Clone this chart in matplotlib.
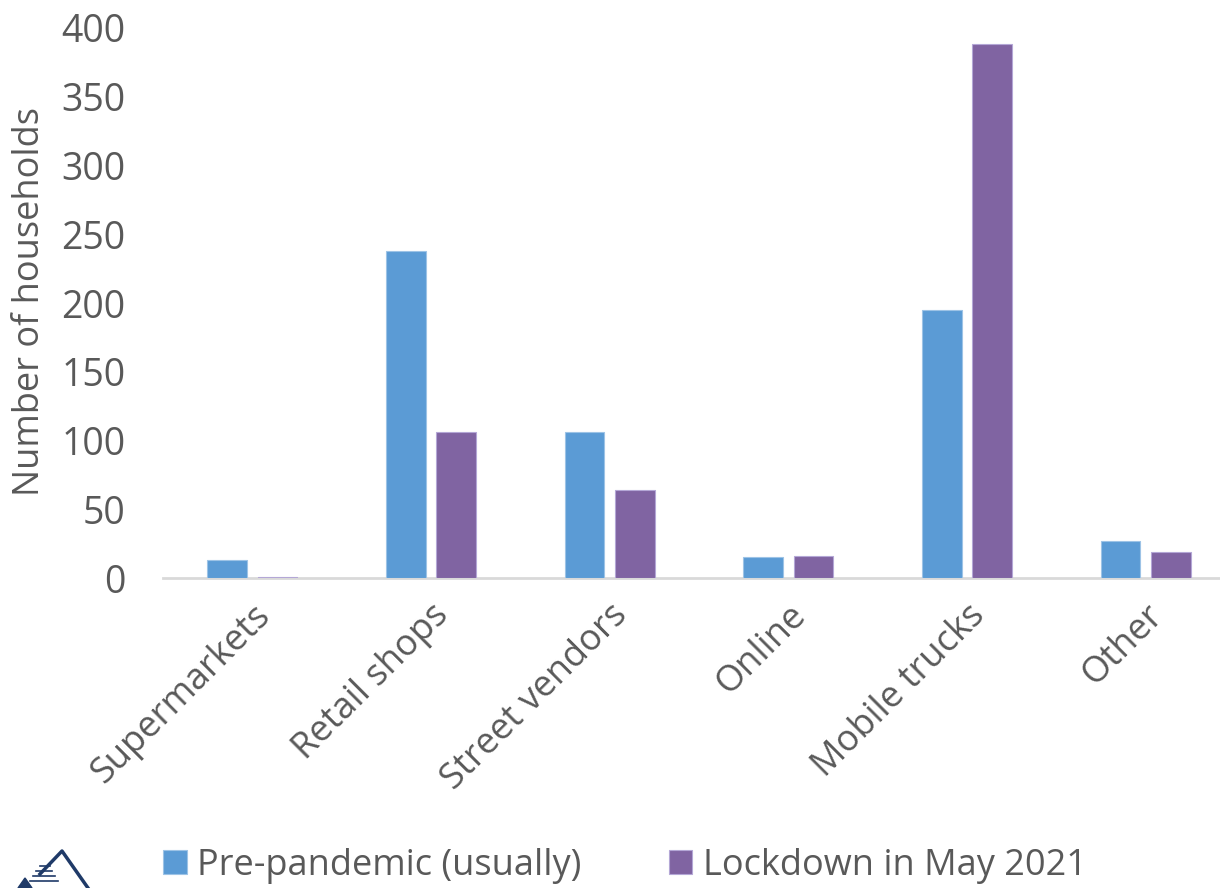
import matplotlib.pyplot as plt
import numpy as np

categories = ['Supermarkets', 'Retail shops', 'Street vendors', 'Online', 'Mobile trucks', 'Other']
pre_pandemic = [13, 238, 106, 15, 195, 27]
lockdown = [1, 106, 64, 16, 388, 19]

blue = '#5B9BD5'
purple = '#8064A2'
grey = '#595959'

plt.rcParams['font.family'] = ['Open Sans', 'DejaVu Sans']

fig = plt.figure(figsize=(12.2, 8.88), dpi=100)
ax = fig.add_axes([163 / 1220, 310 / 888, 1072 / 1220, 550 / 888])

x = np.arange(len(categories))
w = 0.222
ax.bar(x - 0.141, pre_pandemic, w, color=blue, edgecolor='#9DC3E6', linewidth=0.8,
       label='Pre-pandemic (usually)', zorder=3)
ax.bar(x + 0.141, lockdown, w, color=purple, edgecolor='#B4A7D6', linewidth=0.8,
       label='Lockdown in May 2021', zorder=3)

ax.set_xlim(-0.5, 5.5)
ax.set_ylim(0, 400)
ax.set_yticks(range(0, 401, 50))
ax.set_xticks(x)
ax.set_xticklabels(categories, rotation=45, ha='right', rotation_mode='anchor')
ax.tick_params(axis='both', length=0, labelsize=26, colors=grey)
ax.tick_params(axis='y', labelsize=27, pad=27)
ax.tick_params(axis='x', pad=14)

for side in ['top', 'right', 'left']:
    ax.spines[side].set_visible(False)
ax.spines['bottom'].set_color('#D9D9D9')
ax.spines['bottom'].set_linewidth(2)

fig.text(30 / 1220, 1 - 301 / 888, 'Number of households', rotation=90,
         ha='center', va='center', fontsize=26, color=grey)

leg = fig.legend(loc='center', bbox_to_anchor=(625 / 1220, 1 - 866 / 888), ncol=2,
                 frameon=False, fontsize=26, handlelength=0.65, handleheight=0.65,
                 handletextpad=0.3, columnspacing=2.4)
for t in leg.get_texts():
    t.set_color(grey)

# small logo mark in the lower-left corner
logo = '#1F3A68'
lx = lambda v: v / 1220
ly = lambda v: 1 - v / 888
fig.add_artist(plt.Line2D([lx(40), lx(62), lx(88)], [ly(874), ly(851), ly(888)],
                          color=logo, lw=2.5))
for yy, x0, x1 in [(866, 40, 50), (871, 36, 52), (876, 33, 55), (881, 30, 58)]:
    fig.add_artist(plt.Line2D([lx(x0), lx(x1)], [ly(yy), ly(yy)], color=logo, lw=1.2))
fig.add_artist(plt.Polygon([[lx(18), ly(888)], [lx(25), ly(878)], [lx(32), ly(888)]],
                           closed=True, color=logo))

fig.savefig('out.png', dpi=100)
